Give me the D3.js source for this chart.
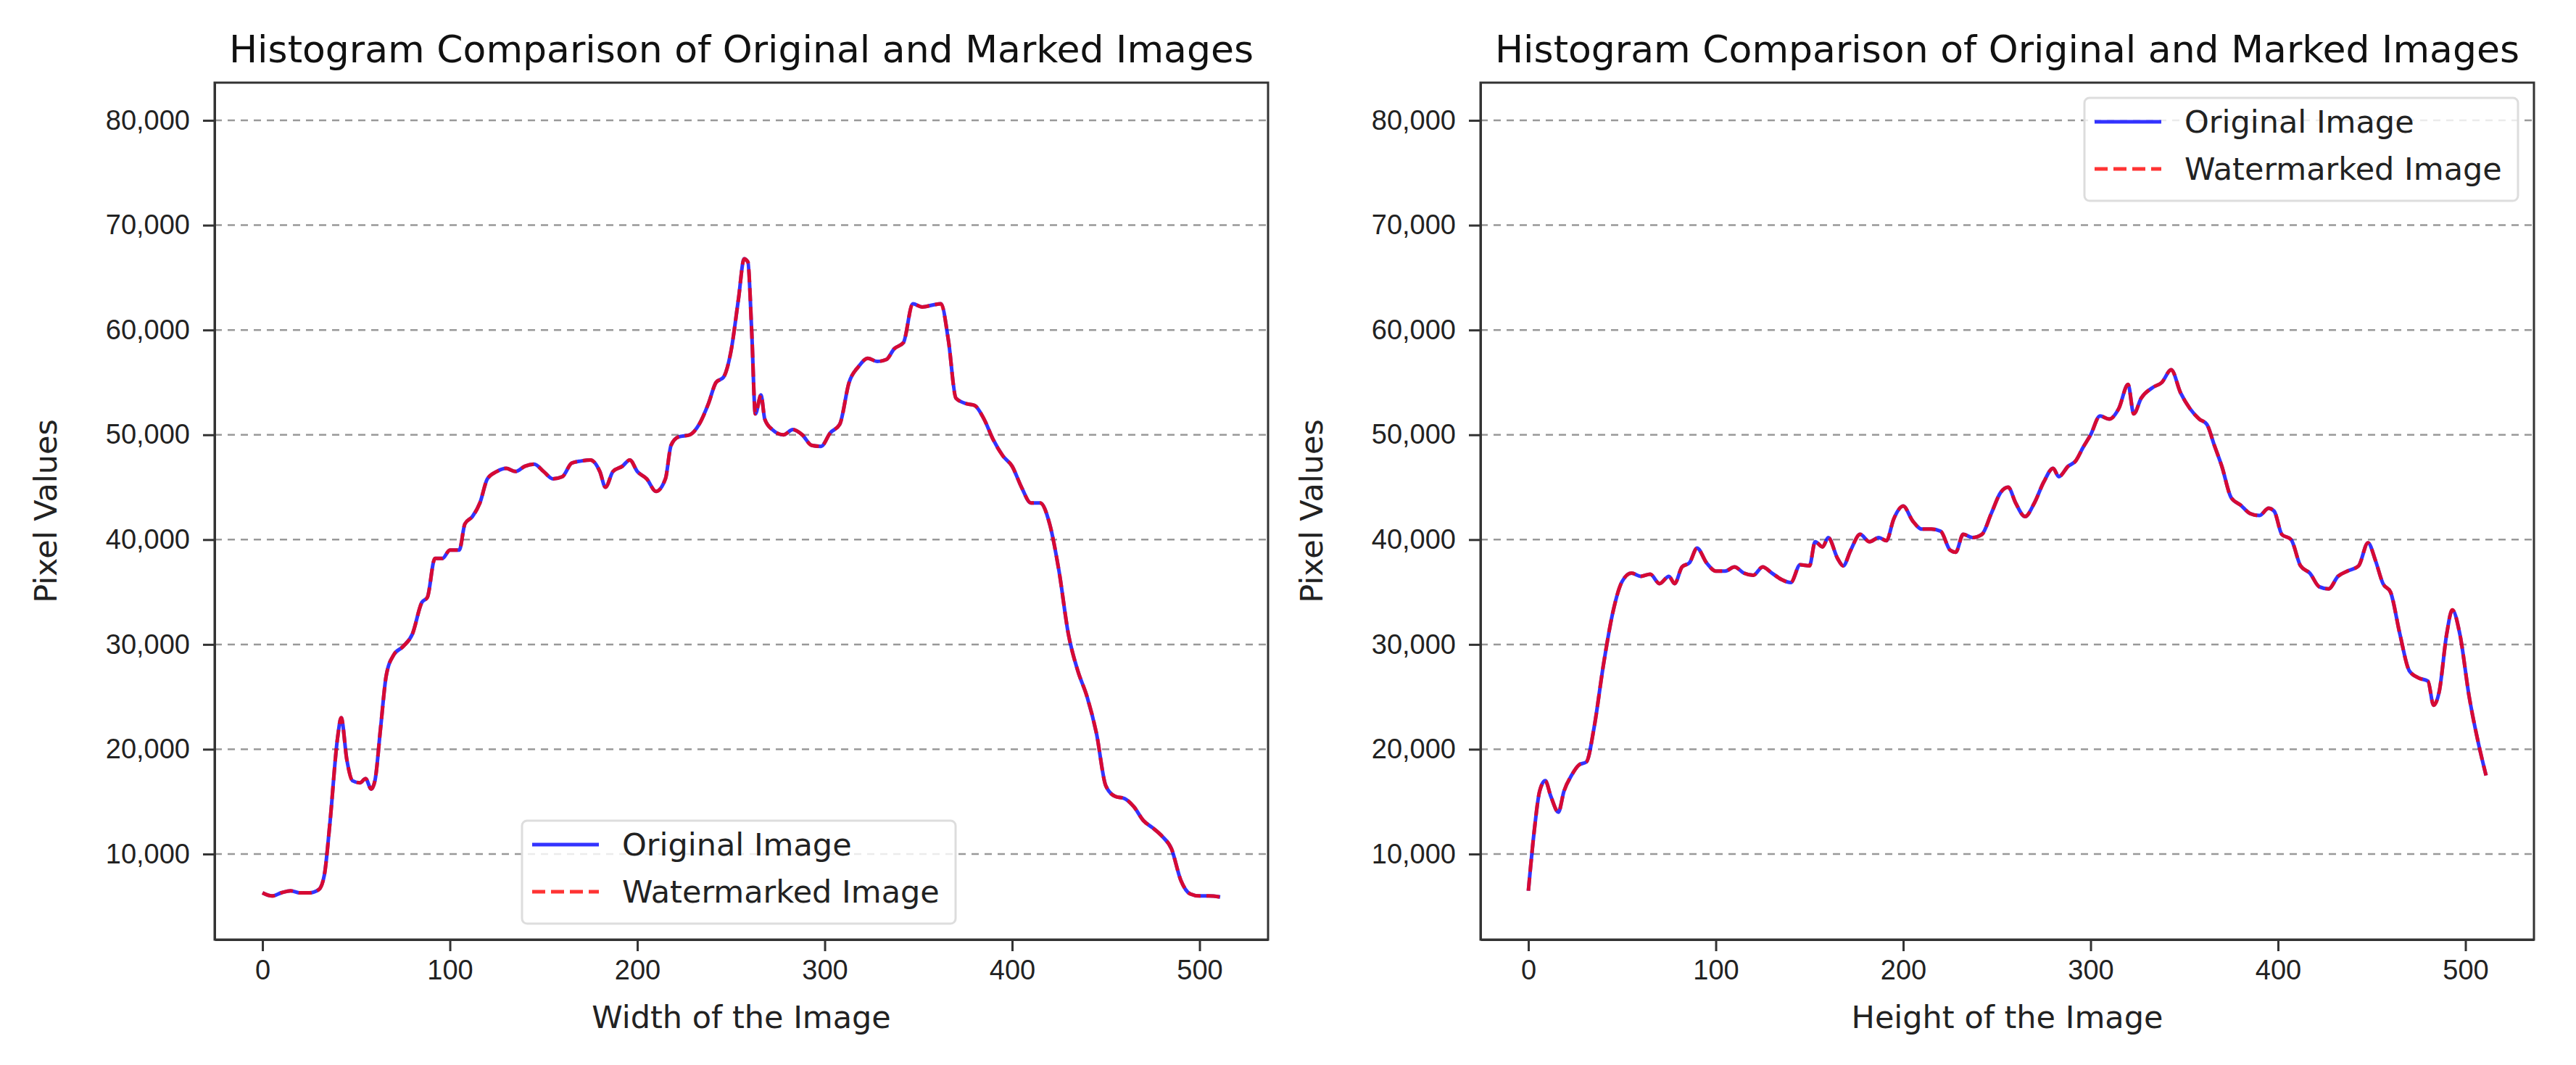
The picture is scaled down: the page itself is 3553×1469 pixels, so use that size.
<!DOCTYPE html>
<html><head><meta charset="utf-8">
<script src="https://cdn.jsdelivr.net/npm/d3@7"></script>
<style>
body{margin:0;background:#fff;font-family:"DejaVu Sans",sans-serif;}
.axis text{font-size:38px;fill:#222;}
.axis path,.axis line{stroke:#333;stroke-width:3px;}
</style></head>
<body><svg id="chart" width="3553" height="1469"></svg>
<script>
var widthX = [0,5,10,15,20,25,30,33,36,40,42,45,48,52,55,58,60,63,66,70,75,80,85,88,92,96,100,105,108,112,116,120,125,130,135,140,145,150,155,160,165,170,175,180,183,187,192,196,200,205,210,215,218,222,228,233,238,242,246,250,254,257,259,261,263,266,268,272,278,283,288,293,298,303,308,313,318,323,328,333,337,342,347,352,358,362,366,370,375,380,385,390,395,400,405,410,415,420,425,430,435,440,445,450,455,460,465,470,475,480,485,490,495,500,505,511];
var widthOriginal = [6300,6000,6300,6500,6300,6300,6600,8000,13000,21000,23000,19000,17000,16800,17200,16200,17000,22000,27000,29000,29800,31000,34000,34500,38200,38200,39000,39000,41500,42200,43500,45800,46500,46800,46500,47000,47200,46500,45800,46000,47300,47500,47600,46500,45000,46500,47000,47600,46500,45800,44600,45800,49000,49800,50000,51000,53000,55000,55500,58000,63000,66800,66500,60000,52000,53800,51500,50500,50000,50500,50000,49000,48900,50200,51000,55000,56500,57300,57000,57200,58200,58800,62500,62200,62400,62500,59000,53500,53000,52800,51500,49500,48000,47000,45000,43500,43500,41500,37000,31000,27500,25000,21500,16500,15500,15300,14500,13200,12500,11700,10500,7500,6200,6000,6000,5900];
var widthMarked = widthOriginal.slice();

var heightX = [0,3,6,9,12,16,19,23,27,31,35,40,45,50,55,60,65,70,75,78,82,86,90,95,100,105,110,115,120,125,130,135,140,145,150,153,157,160,165,168,172,177,182,187,191,195,200,205,210,215,220,225,228,232,237,242,247,252,256,260,265,270,275,280,283,288,292,296,300,305,310,315,320,323,327,333,338,343,348,353,358,362,366,370,375,380,385,390,395,398,402,407,412,417,422,427,432,437,443,448,452,456,460,465,470,475,480,483,486,490,493,497,502,507,511];
var heightOriginal = [6500,12000,16000,17000,15500,14000,16000,17500,18500,18800,22000,28000,33000,36000,36800,36500,36700,35800,36500,35800,37400,37800,39200,37800,37000,37000,37400,36800,36600,37400,36800,36200,35900,37600,37500,39800,39300,40200,38200,37500,39000,40500,39800,40200,39900,42000,43200,41800,41000,41000,40800,39000,38800,40500,40200,40500,42500,44500,45000,43500,42200,43500,45500,46800,46000,47000,47500,48800,50000,51800,51500,52500,54800,52000,53500,54500,55000,56200,54000,52500,51500,51000,49000,47000,44000,43300,42500,42300,43000,42700,40500,40000,37500,36800,35500,35300,36500,37000,37500,39700,38000,35800,35000,31000,27500,26800,26500,24200,25500,31000,33300,31000,25000,20500,17500];
var heightMarked = heightOriginal.slice();

var xTicks = [0,100,200,300,400,500];
var yTicks = [10000,20000,30000,40000,50000,60000,70000,80000];
var seriesNames = ["Original Image","Watermarked Image"];
var title = "Histogram Comparison of Original and Marked Images";

var svg = d3.select("#chart");

function panel(left, right, xs, orig, marked, xLabel, legendPos) {
    var top = 114, bottom = 1296;
    var g = svg.append("g");
    var x = d3.scaleLinear().domain([-25.55, 536.55]).range([left, right]);
    var y = d3.scaleLinear().domain([1840, 83600]).range([bottom, top]);

    // grid
    g.selectAll(".grid").data(yTicks).enter().append("line")
        .attr("x1", left).attr("x2", right)
        .attr("y1", d => y(d)).attr("y2", d => y(d))
        .attr("stroke", "#999").attr("stroke-width", 2.5).attr("stroke-dasharray", "10,8");

    g.append("g").attr("class", "axis").attr("transform", "translate(0," + bottom + ")")
        .call(d3.axisBottom(x).tickValues(xTicks).tickSize(16).tickPadding(12).tickSizeOuter(0));
    g.append("g").attr("class", "axis").attr("transform", "translate(" + left + ",0)")
        .call(d3.axisLeft(y).tickValues(yTicks).tickFormat(d3.format(",")).tickSize(16).tickPadding(18).tickSizeOuter(0));

    var line = d3.line().x((d, i) => x(xs[i])).y(d => y(d)).curve(d3.curveMonotoneX);
    g.append("path").attr("d", line(orig)).attr("fill", "none")
        .attr("stroke", "#0000ff").attr("stroke-opacity", 0.8).attr("stroke-width", 5);
    g.append("path").attr("d", line(marked)).attr("fill", "none")
        .attr("stroke", "#ff0000").attr("stroke-opacity", 0.8).attr("stroke-width", 5)
        .attr("stroke-dasharray", "18,8");

    g.append("rect").attr("x", left).attr("y", top).attr("width", right - left).attr("height", bottom - top)
        .attr("fill", "none").attr("stroke", "#333").attr("stroke-width", 3);

    g.append("text").attr("x", (left + right) / 2).attr("y", 86).attr("text-anchor", "middle")
        .attr("font-size", 52).attr("fill", "#111").text(title);
    g.append("text").attr("x", (left + right) / 2).attr("y", 1418).attr("text-anchor", "middle")
        .attr("font-size", 43).attr("fill", "#222").text(xLabel);
    g.append("text").attr("transform", "translate(" + (left - 218) + "," + ((top + bottom) / 2) + ") rotate(-90)")
        .attr("text-anchor", "middle").attr("font-size", 43).attr("fill", "#222").text("Pixel Values");

    // legend
    var lg = g.append("g").attr("transform", "translate(" + legendPos[0] + "," + legendPos[1] + ")");
    lg.append("rect").attr("width", 598).attr("height", 142).attr("rx", 7)
        .attr("fill", "#fff").attr("fill-opacity", 0.8).attr("stroke", "#ddd").attr("stroke-width", 3);
    seriesNames.forEach(function(n, i) {
        var yy = 33 + i * 65;
        lg.append("line").attr("x1", 14).attr("x2", 106).attr("y1", yy).attr("y2", yy)
            .attr("stroke", i ? "#ff0000" : "#0000ff").attr("stroke-opacity", 0.8).attr("stroke-width", 5)
            .attr("stroke-dasharray", i ? "18,8" : null);
        lg.append("text").attr("x", 138).attr("y", yy + 15).attr("font-size", 43).attr("fill", "#222").text(n);
    });
}

panel(296, 1749, widthX, widthOriginal, widthMarked, "Width of the Image", [720, 1132]);
panel(2042, 3495, heightX, heightOriginal, heightMarked, "Height of the Image", [2875, 135]);
</script></body></html>
